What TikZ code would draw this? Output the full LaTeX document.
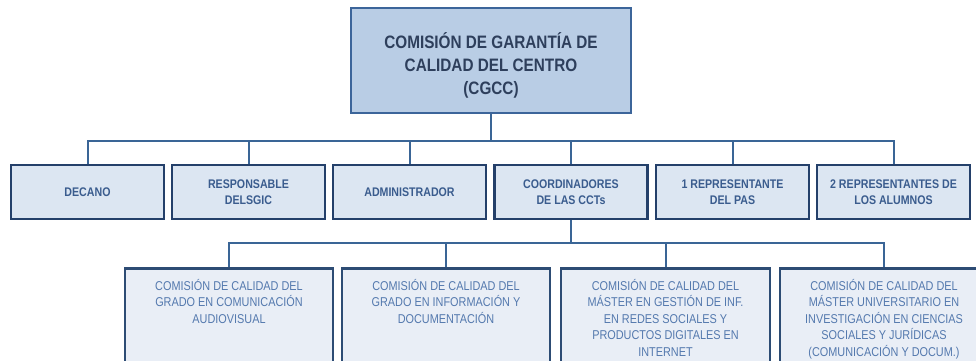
\documentclass[tikz,border=0pt]{standalone}
\usepackage{fontspec}
\setmainfont{Liberation Sans}[FakeStretch=0.85]
\definecolor{topfill}{HTML}{B9CDE5}
\definecolor{topdraw}{HTML}{3C659A}
\definecolor{toptext}{HTML}{2E3F5C}
\definecolor{midfill}{HTML}{DCE6F2}
\definecolor{middraw}{HTML}{24406A}
\definecolor{midtext}{HTML}{3A5C8E}
\definecolor{lowfill}{HTML}{E9EEF6}
\definecolor{lowdraw}{HTML}{2D4C74}
\definecolor{lowtext}{HTML}{5479AE}
\definecolor{linkcol}{HTML}{3A6596}
\begin{document}
\begin{tikzpicture}[x=1pt,y=-1pt,
  topbox/.style={draw=topdraw, fill=topfill, line width=2.5pt, minimum width=280pt, minimum height=105pt, align=center, text=toptext, font=\fontsize{18}{23}\selectfont\bfseries},
  midbox/.style={draw=middraw, fill=midfill, line width=2.5pt, minimum width=153pt, minimum height=54pt, align=center, text=midtext, font=\fontsize{12.5}{16}\selectfont\bfseries},
  lowbox/.style={draw=lowdraw, fill=lowfill, line width=2.5pt, anchor=north, inner xsep=0pt, inner ysep=6pt, align=center, text=lowtext, font=\fontsize{12.8}{16.5}\selectfont},
  link/.style={draw=linkcol, line width=2pt}]
\useasboundingbox (0,0) rectangle (976,360);
\clip (0,0) rectangle (976,360);
\node[topbox] (cgcc) at (491,60.5){\rule{0pt}{25pt}COMISIÓN DE GARANTÍA DE\\CALIDAD DEL CENTRO\\(CGCC)};
\coordinate (bus1) at (491,141);
\node[midbox] (dec) at (87.5,192){DECANO};
\node[midbox] (resp) at (248.5,192){RESPONSABLE\\DELSGIC};
\node[midbox] (adm) at (409.5,192){ADMINISTRADOR};
\node[midbox] (coord) at (571,192){COORDINADORES\\DE LAS CCTs};
\node[midbox] (pas) at (732.5,192){1 REPRESENTANTE\\DEL PAS};
\node[midbox] (alu) at (893.5,192){2 REPRESENTANTES DE\\LOS ALUMNOS};
\draw[link] (cgcc.south) -- (bus1);
\foreach \n in {dec,resp,adm,coord,pas,alu}
  \draw[link] (bus1) -| (\n.north);
\coordinate (bus2) at (571,243);
\node[lowbox] (cc1) at (229,267){\parbox[t][104pt][t]{208pt}{\centering\vspace{5pt}COMISIÓN DE CALIDAD DEL\\GRADO EN COMUNICACIÓN\\AUDIOVISUAL}};
\node[lowbox] (cc2) at (446,267){\parbox[t][104pt][t]{208pt}{\centering\vspace{5pt}COMISIÓN DE CALIDAD DEL\\GRADO EN INFORMACIÓN Y\\DOCUMENTACIÓN}};
\node[lowbox] (cc3) at (665.5,267){\parbox[t][104pt][t]{209pt}{\centering\vspace{5pt}COMISIÓN DE CALIDAD DEL\\MÁSTER EN GESTIÓN DE INF.\\EN REDES SOCIALES Y\\PRODUCTOS DIGITALES EN\\INTERNET}};
\node[lowbox] (cc4) at (884,267){\parbox[t][104pt][t]{208pt}{\centering\vspace{5pt}COMISIÓN DE CALIDAD DEL\\MÁSTER UNIVERSITARIO EN\\INVESTIGACIÓN EN CIENCIAS\\SOCIALES Y JURÍDICAS\\(COMUNICACIÓN Y DOCUM.)}};
\draw[link] (coord.south) -- (bus2);
\foreach \n in {cc1,cc2,cc3,cc4}
  \draw[link] (bus2) -| (\n.north);
\end{tikzpicture}
\end{document}
